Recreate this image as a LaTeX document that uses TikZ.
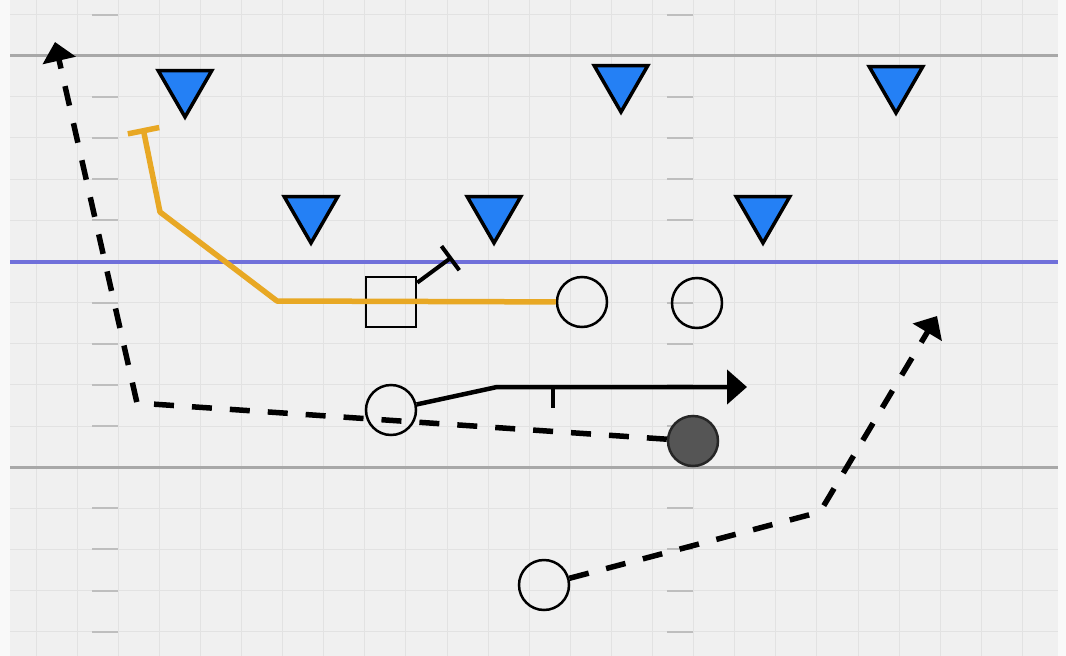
\documentclass[tikz,border=0pt]{standalone}
\usetikzlibrary{arrows.meta,shapes.geometric}
\definecolor{marginbg}{RGB}{249,249,249}
\definecolor{fieldbg}{RGB}{240,240,240}
\definecolor{gridcol}{RGB}{226,226,226}
\definecolor{hashcol}{RGB}{190,190,190}
\definecolor{sidecol}{RGB}{168,168,168}
\definecolor{loscol}{RGB}{112,112,218}
\definecolor{defblue}{RGB}{36,128,245}
\definecolor{routeyellow}{RGB}{232,168,36}
\definecolor{ballfill}{RGB}{85,85,85}
\begin{document}
\begin{tikzpicture}[x=1pt,y=-1pt,
  gridline/.style={draw=gridcol,line width=1pt},
  hashmark/.style={draw=hashcol,line width=2pt},
  sideline/.style={draw=sidecol,line width=3pt},
  scrimmage/.style={draw=loscol,line width=4pt},
  defender/.style={regular polygon,regular polygon sides=3,shape border rotate=180,
    draw=black,line width=3.5pt,fill=defblue,minimum size=62pt,inner sep=0pt},
  player/.style={circle,draw=black,line width=2.5pt,minimum size=50pt,inner sep=0pt},
  centerbox/.style={rectangle,draw=black,line width=2.5pt,minimum size=50pt,inner sep=0pt},
  carrier/.style={player,fill=ballfill,draw=black!85},
  yroute/.style={draw=routeyellow,line width=5.5pt,line join=round,-{Bar[width=32pt]}},
  blockroute/.style={draw=black,line width=4pt,-{Bar[width=30pt]}},
  solidroute/.style={draw=black,line width=4.5pt,-{Triangle[length=20pt,width=34pt]}},
  dashroute/.style={draw=black,line width=5.5pt,dash pattern=on 20pt off 18pt,
    -{Triangle[length=19pt,width=33pt]}},
  tickmark/.style={draw=black,line width=4pt}
]
\useasboundingbox (0,0) rectangle (1066,656);
% field
\fill[marginbg] (0,0) rectangle (1066,656);
\fill[fieldbg] (10,0) rectangle (1058,656);
\foreach \k in {0,...,24}
  \draw[gridline] ({36+41.1*\k},0) -- ({36+41.1*\k},656);
\foreach \k in {0,...,15}
  \draw[gridline] (10,{14.5+41.15*\k}) -- (1058,{14.5+41.15*\k});
\foreach \k in {0,2,3,4,5,7,8,9,10,12,13,14,15}{
  \draw[hashmark] (92,{14.5+41.15*\k}) -- (118,{14.5+41.15*\k});
  \draw[hashmark] (667,{14.5+41.15*\k}) -- (693,{14.5+41.15*\k});
}
\draw[sideline] (10,55.65) -- (1058,55.65);
\draw[sideline] (10,467.15) -- (1058,467.15);
\draw[scrimmage] (10,262) -- (1058,262);

% defense
\node[defender] (d1) at (185,86) {};
\node[defender] (d2) at (621,81) {};
\node[defender] (d3) at (896,82) {};
\node[defender] (d4) at (311,212) {};
\node[defender] (d5) at (494,212) {};
\node[defender] (d6) at (763,212) {};

% offense
\node[centerbox] (qb) at (391,302) {};
\node[player] (o1) at (582,302) {};
\node[player] (o2) at (697,303) {};
\node[player] (o3) at (391,410) {};
\node[carrier] (rb) at (693,441) {};
\node[player] (o5) at (544,585) {};

% route points
\coordinate (y1) at (277,301);
\coordinate (y2) at (160,212);
\coordinate (y3) at (143,128);
\coordinate (b1) at (452,257);
\coordinate (s1) at (497,387);
\coordinate (s2) at (747,387);
\coordinate (t1) at (553,387);
\coordinate (t2) at (553,408);
\coordinate (w1) at (137,403);
\coordinate (w2) at (55,42);
\coordinate (z1) at (820,512);
\coordinate (z2) at (937,316);

% routes
\draw[yroute] (o1) -- (y1) -- (y2) -- (y3);
\draw[blockroute] (qb) -- (b1);
\draw[solidroute] (o3) -- (s1) -- (s2);
\draw[tickmark] (t1) -- (t2);
\draw[dashroute] (rb) -- (w1) -- (w2);
\draw[dashroute,rounded corners=6pt] (o5) -- (z1) -- (z2);
\end{tikzpicture}
\end{document}
